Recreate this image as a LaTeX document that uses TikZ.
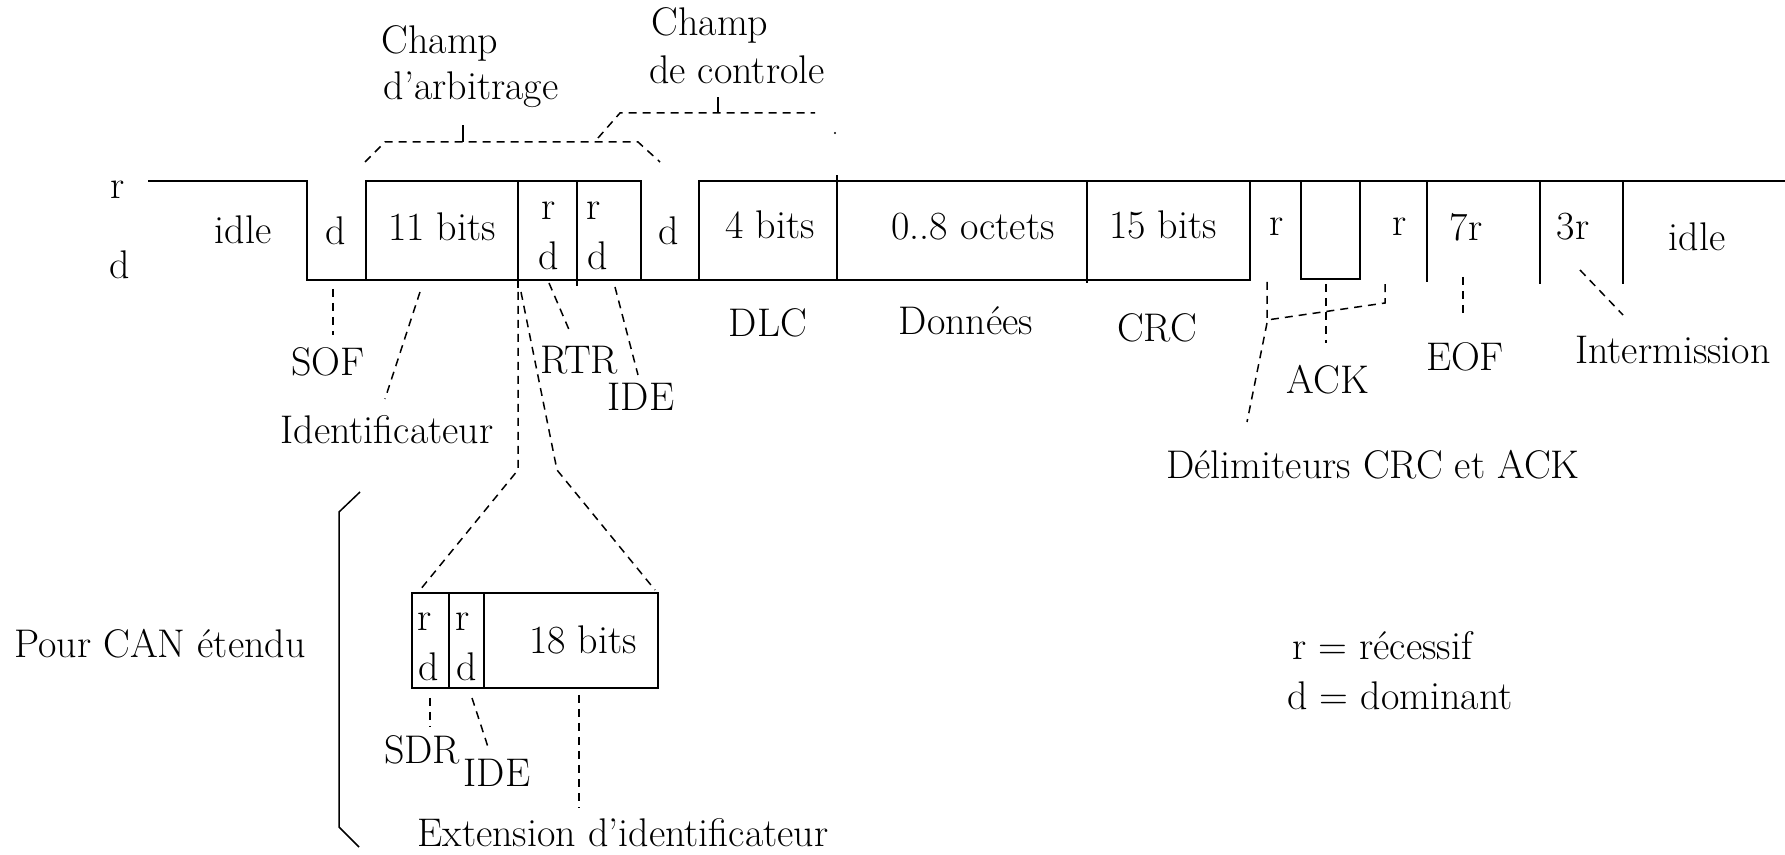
\documentclass[tikz,border=0pt]{standalone}
\begin{document}
\begin{tikzpicture}[x=0.5pt,y=-0.5pt,
  every node/.style={inner sep=0pt, font=\fontsize{20}{24}\selectfont},
  wave/.style={line width=1.1pt, line cap=rect},
  dsh/.style={line width=0.75pt, dash pattern=on 4pt off 3pt},
  thinl/.style={line width=0.75pt}]
\useasboundingbox (0,0) rectangle (1785,855);

% ---------- level labels
\node (lr) at (118,190) {r};
\node (ld) at (120,265) {d};

% ---------- waveform
\draw[wave] (149,181) -- (307,181) -- (307,280) -- (1250,280) -- (1250,181);
\draw[wave] (366,280) -- (366,181) -- (641,181) -- (641,280);
\draw[wave] (699,280) -- (699,181) -- (1785,181);
\draw[wave] (518,181) -- (518,287);
\draw[wave] (577,181) -- (577,285);
\draw[wave] (837,176) -- (837,280);
\draw[wave] (1087,181) -- (1087,282);
\draw[wave] (1301,181) -- (1301,279) -- (1360,279) -- (1360,181);
\draw[wave] (1427,181) -- (1427,281);
\draw[wave] (1540,181) -- (1540,283);
\draw[wave] (1623,181) -- (1623,283);

% ---------- texts in the frame
\node (idle1) at (243,230) {idle};
\node (sofd) at (336,231) {d};
\node (b11) at (442,227) {11 bits};
\node (r1) at (549,211) {r};
\node (d1) at (549,256) {d};
\node (r2) at (594,211) {r};
\node (d2) at (598,256) {d};
\node (dd) at (669,231) {d};
\node (b4) at (770,225) {4 bits};
\node (oct) at (973,227) {0..8 octets};
\node (b15) at (1163,225) {15 bits};
\node (rc) at (1277,227) {r};
\node (ra) at (1400,227) {r};
\node (r7) at (1466,227) {7r};
\node (r3) at (1573,227) {3r};
\node (idle2) at (1697,237) {idle};

% ---------- top labels and brackets
\node (ca1) at (440,43) {Champ};
\node (ca2) at (471,90) {d’arbitrage};
\node (cc1) at (710,25) {Champ};
\node (cc2) at (737,70) {de controle};
\draw[dsh] (365,162) -- (385,142) -- (638,142) -- (660,162);
\draw[thinl] (463,142) -- (463,125);
\draw[dsh] (598,138) -- (620,113) -- (815,113);
\draw[thinl] (718,113) -- (718,97);
\fill (835,133) circle (1.2);

% ---------- labels below
\node (dlc) at (768,323) {DLC};
\node (don) at (966,321) {Données};
\node (crc) at (1157,328) {CRC};
\node (sof) at (328,362) {SOF};
\node (ident) at (387,430) {Identificateur};
\node (rtr) at (579,360) {RTR};
\node (ide) at (641,397) {IDE};
\node (ack) at (1328,380) {ACK};
\node (eof) at (1465,357) {EOF};
\node (inter) at (1673,350) {Intermission};
\node (delim) at (1373,465) {Délimiteurs CRC et ACK};

% connectors
\draw[dsh] (333,289) -- (333,335);
\draw[dsh] (420,292) -- (385,399);
\draw[dsh] (549,283) -- (570,332);
\draw[dsh] (615,287) -- (638,375);
\draw[dsh] (1267,282) -- (1267,320) -- (1385,303) -- (1385,282);
\draw[dsh] (1267,323) -- (1247,422);
\draw[dsh] (1326,284) -- (1326,343);
\draw[dsh] (1463,277) -- (1463,318);
\draw[dsh] (1580,270) -- (1623,315);

% ---------- extended CAN
\draw[dsh] (518,292) -- (518,470) -- (420,590);
\draw[dsh] (521,292) -- (557,470) -- (655,590);
\draw[wave] (412,593) rectangle (658,688);
\draw[wave] (449,593) -- (449,688);
\draw[wave] (484,593) -- (484,688);
\node (er1) at (425,622) {r};
\node (ed1) at (429,667) {d};
\node (er2) at (463,622) {r};
\node (ed2) at (467,667) {d};
\node (b18) at (583,640) {18 bits};
\node (sdr) at (422,750) {SDR};
\node (ide2) at (497,773) {IDE};
\node (ext) at (623,833) {Extension d’identificateur};
\draw[dsh] (430,698) -- (430,727);
\draw[dsh] (472,698) -- (488,747);
\draw[dsh] (579,695) -- (579,808);
\node (can) at (160,644) {Pour CAN étendu};
\draw[thinl] (360,492) -- (339,512) -- (339,827) -- (359,847);

% ---------- legend
\node[anchor=base west] (lgr) at (1292,660) {r = récessif};
\node[anchor=base west] (lgd) at (1287,710) {d = dominant};
\end{tikzpicture}
\end{document}
